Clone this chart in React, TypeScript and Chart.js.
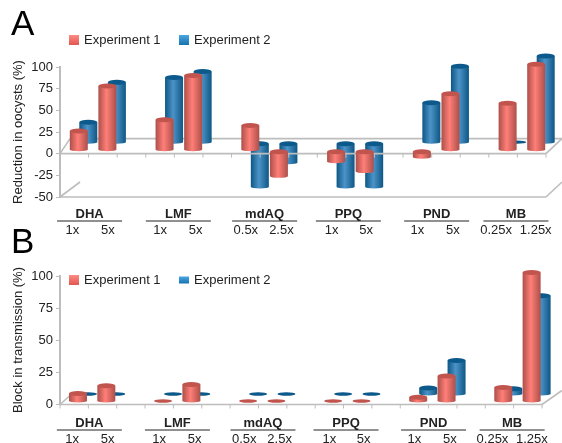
import React, { useEffect, useRef } from "react";
import { Chart, registerables } from "chart.js";

Chart.register(...registerables);

const categories = ["1x","5x","","1x","5x","","0.5x","2.5x","","1x","5x","","1x","5x","","0.25x","1.25x"];
const groups = ["DHA","LMF","mdAQ","PPQ","PND","MB"];
const ticksA = [-50,-25,0,25,50,75,100];
const oocystsExp1 = [21.5,73.5,null,34.5,85.5,null,28,-28.5,null,-11.5,-23,null,-6.5,64.5,null,53.5,98.5];
const oocystsExp2 = [23,69,null,74.5,81.5,null,-50,-22,null,-50,-50,null,45.5,87.5,null,0,99.5];
const transmissionExp1 = [5.8,11.8,null,0,12.8,null,0,0,null,0,0,null,3,19.4,null,10.5,100];
const transmissionExp2 = [0,0,null,0,0,null,0,0,null,0,0,null,4.7,26,null,4,76.5];

const FONT = "'Liberation Sans', Arial, sans-serif";
const GRAY = "#bdbdbd";
const TEXT = "#222";
const doseOffsets = [-2,5,0,0,7,0,0,7,0,0,6,0,0,7,0,-7,4];
const groupOffsets = [1,4,4.5,2.5,5,-1.5];

type Cfg = {
  letter: string; title: string; exp1: (number|null)[]; exp2: (number|null)[];
  min: number; canvasTop: number; canvasH: number; top: number; bottom: number; right: number;
  redDx: number; redDy: number; redNegDy: number; blueDx: number; blueDy: number; blueNegDy: number;
  letterY: number; legendY: number; blueSwatchH: number; groupY: number; lineY: number; doseY: number;
  back: boolean; titleY: number;
};

const RED = { edge: "#ad4f49", mid: "#ff7f78", cap: "#c2544e" };
const BLUE = { edge: "#0e5684", mid: "#4c94c8", cap: "#0c5a8c" };

function cylinder(ctx: CanvasRenderingContext2D, x: number, y0: number, y1: number, c: typeof RED) {
  const w = 18, rx = w / 2, ryTop = 2.5, ryBot = 1.5;
  const top = Math.min(y0, y1), bot = Math.max(y0, y1);
  if (bot - top < 0.5) {
    ctx.fillStyle = c.cap;
    ctx.beginPath(); ctx.ellipse(x, top, rx, 1.7, 0, 0, Math.PI * 2); ctx.fill();
    return;
  }
  const g = ctx.createLinearGradient(x - rx, 0, x + rx, 0);
  g.addColorStop(0, c.edge); g.addColorStop(0.45, c.mid); g.addColorStop(1, c.edge);
  ctx.fillStyle = g;
  ctx.beginPath();
  ctx.moveTo(x - rx, top); ctx.lineTo(x - rx, bot);
  ctx.ellipse(x, bot, rx, ryBot, 0, Math.PI, 0, true);
  ctx.lineTo(x + rx, top); ctx.closePath(); ctx.fill();
  ctx.fillStyle = c.cap;
  ctx.beginPath(); ctx.ellipse(x, top, rx, ryTop, 0, 0, Math.PI * 2); ctx.fill();
}

function makePlugin(cfg: Cfg) {
  return {
    id: "scene" + cfg.letter,
    afterDatasetsDraw(chart: any) {
      const ctx: CanvasRenderingContext2D = chart.ctx;
      const xs = chart.scales.x, ys = chart.scales.y;
      const { left, right, bottom } = chart.chartArea;
      const zero = ys.getPixelForValue(0);
      const depth = 15;
      ctx.save();
      ctx.strokeStyle = GRAY; ctx.lineWidth = 1.6;
      const line = (a: number, b: number, c: number, d: number) => {
        ctx.beginPath(); ctx.moveTo(a, b); ctx.lineTo(c, d); ctx.stroke();
      };
      if (cfg.back) {
        line(left + 10, zero - depth, 562, zero - depth);
        line(left, zero, left + 10, zero - depth);
        line(right, zero, right + 16, zero - depth);
        line(left, bottom, right, bottom);
        line(left, bottom, left + 20, bottom - 15);
        line(right, bottom, right + 16, bottom - 15);
      } else {
        line(left, zero, left + 10, zero - 9);
        line(right, zero, right + 20, zero - 14);
      }
      const drawSet = (idx: number, dx: number, dy: number, negDy: number, c: typeof RED) => {
        const vals = chart.data.datasets[idx].data;
        vals.forEach((v: number | null, i: number) => {
          if (v == null) return;
          const d = v < 0 ? negDy : dy;
          cylinder(ctx, xs.getPixelForValue(i) + dx, zero + d, ys.getPixelForValue(v) + d, c);
        });
      };
      drawSet(1, cfg.blueDx, cfg.blueDy, cfg.blueNegDy, BLUE);
      // front floor edge runs over the rear series
      ctx.strokeStyle = GRAY; ctx.lineWidth = 1.6;
      line(left, zero, right, zero);
      ctx.lineWidth = 1;
      for (let i = 0; i <= categories.length; i++) {
        const px = left + (i * (right - left)) / categories.length;
        line(px, zero, px, zero + 4);
      }
      drawSet(0, cfg.redDx, cfg.redDy, cfg.redNegDy, RED);
      // category text
      ctx.fillStyle = TEXT; ctx.textAlign = "center"; ctx.textBaseline = "middle";
      ctx.font = `13px ${FONT}`;
      categories.forEach((lab, i) => {
        if (lab) ctx.fillText(lab, xs.getPixelForValue(i) + doseOffsets[i], cfg.doseY);
      });
      groups.forEach((g, i) => {
        const cx = left + ((3 * i + 1) * (right - left)) / categories.length + groupOffsets[i];
        ctx.font = `bold 13px ${FONT}`;
        ctx.fillStyle = TEXT;
        ctx.fillText(g, cx, cfg.groupY);
        ctx.strokeStyle = "#222"; ctx.lineWidth = 1;
        line(cx - 32.5, cfg.lineY, cx + 32.5, cfg.lineY);
      });
      // legend
      ctx.textAlign = "left"; ctx.font = `13px ${FONT}`;
      const swatch = (x: number, h: number, c: typeof RED) => {
        const g = ctx.createLinearGradient(0, cfg.legendY - h / 2, 0, cfg.legendY + h / 2);
        g.addColorStop(0, c === RED ? "#ff8a84" : "#4aa6e0");
        g.addColorStop(1, c === RED ? "#e0574f" : "#1673ad");
        ctx.fillStyle = g;
        ctx.fillRect(x, cfg.legendY - h / 2, 10, h);
      };
      swatch(69, 10, RED);
      swatch(179, cfg.blueSwatchH, BLUE);
      ctx.fillStyle = TEXT;
      ctx.fillText("Experiment 1", 84, cfg.legendY);
      ctx.fillText("Experiment 2", 194, cfg.legendY);
      // panel letter
      ctx.font = `35px ${FONT}`; ctx.fillStyle = "#000"; ctx.textBaseline = "alphabetic";
      ctx.fillText(cfg.letter, 11, cfg.letterY);
      // axis title
      ctx.font = `13px ${FONT}`; ctx.fillStyle = TEXT; ctx.textAlign = "center"; ctx.textBaseline = "middle";
      ctx.translate(18, cfg.titleY); ctx.rotate(-Math.PI / 2);
      ctx.fillText(cfg.title, 0, 0);
      ctx.restore();
    },
  };
}

function Panel({ cfg }: { cfg: Cfg }) {
  const ref = useRef<HTMLCanvasElement>(null);
  useEffect(() => {
    const chart = new Chart(ref.current!, {
      type: "bar",
      data: {
        labels: categories,
        datasets: [
          { label: "Experiment 1", data: cfg.exp1, backgroundColor: "transparent", grouped: false } as any,
          { label: "Experiment 2", data: cfg.exp2, backgroundColor: "transparent", grouped: false } as any,
        ],
      },
      options: {
        responsive: false, animation: false, devicePixelRatio: 1,
        layout: { padding: { top: cfg.top, right: 562 - cfg.right, bottom: cfg.canvasH - cfg.bottom, left: 0 } },
        plugins: { legend: { display: false }, tooltip: { enabled: false } },
        scales: {
          x: {
            grid: { display: false }, border: { display: false }, ticks: { display: false },
            afterFit: (s: any) => { s.height = 0; },
          },
          y: {
            min: cfg.min, max: 100,
            afterFit: (s: any) => { s.width = 60; },
            afterBuildTicks: (s: any) => { s.ticks = ticksA.filter((v) => v >= cfg.min).map((value) => ({ value })); },
            grid: { drawOnChartArea: false, color: GRAY, tickLength: 4 },
            border: { display: true, color: GRAY, width: 2 },
            ticks: { color: TEXT, font: { size: 13, family: FONT }, padding: 3, autoSkip: false },
          },
        },
      },
      plugins: [makePlugin(cfg)],
    } as any);
    return () => chart.destroy();
  }, []);
  return (
    <canvas
      ref={ref}
      width={562}
      height={cfg.canvasH}
      style={{ position: "absolute", left: 0, top: cfg.canvasTop, width: 562, height: cfg.canvasH }}
    />
  );
}

const panelA: Cfg = {
  letter: "A", title: "Reduction in oocysts (%)", exp1: oocystsExp1, exp2: oocystsExp2,
  min: -50, canvasTop: 0, canvasH: 240, top: 67, bottom: 197, right: 546,
  redDx: 4.5, redDy: -4, redNegDy: -2, blueDx: 14, blueDy: -11.5, blueNegDy: -10,
  letterY: 35, legendY: 40, blueSwatchH: 10, groupY: 214, lineY: 221, doseY: 230, back: true, titleY: 132,
};
const panelB: Cfg = {
  letter: "B", title: "Block in transmission (%)", exp1: transmissionExp1, exp2: transmissionExp2,
  min: 0, canvasTop: 225, canvasH: 218, top: 51, bottom: 179.5, right: 542,
  redDx: 3.8, redDy: -3.5, redNegDy: -3.5, blueDx: 13.8, blueDy: -10.5, blueNegDy: -10.5,
  letterY: 28, legendY: 55, blueSwatchH: 7, groupY: 198, lineY: 205, doseY: 214, back: false, titleY: 115,
};

export default function App() {
  useEffect(() => { document.body.style.margin = "0"; }, []);
  return (
    <div style={{ position: "fixed", left: 0, top: 0, width: 562, height: 443, background: "#fff", overflow: "hidden" }}>
      <Panel cfg={panelA} />
      <Panel cfg={panelB} />
    </div>
  );
}
